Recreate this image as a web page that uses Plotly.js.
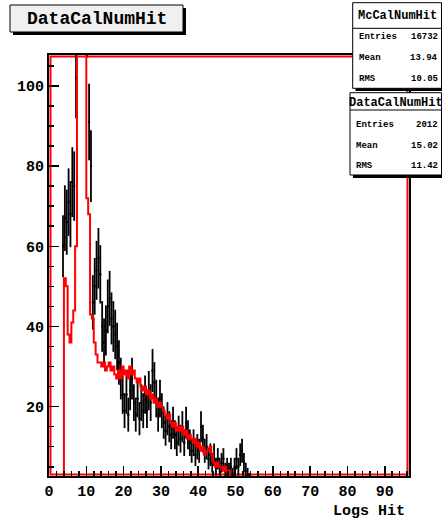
<!DOCTYPE html>
<html><head><meta charset="utf-8">
<script src="https://cdn.plot.ly/plotly-3.0.1.min.js"></script>
<style>html,body{margin:0;padding:0;background:#fff}#chart{width:442px;height:522px}</style>
</head><body><div id="chart"></div>
<script>
// ---------------- data ----------------
const binWidth = 0.5;
const dataFirstBin = 3.5;   // lower edge of first data bin
const dataCounts = [
  60, 67, 66, 71, 68, 76, 75, 102, 130, 150,
  160, 148, 130, 118, 91, 80, 46, 50, 54, 57,
  53, 40, 36, 39, 45, 47, 42, 40, 38, 35,
  31, 27, 23, 19, 23, 18, 24, 27, 21, 18,
  22, 17, 21, 19, 23, 19, 24, 21, 29, 26,
  22, 18, 22, 19, 16, 14, 17, 15, 13, 16,
  13, 11, 14, 12, 15, 11, 16, 13, 11, 9,
  11, 8, 10, 9, 15, 12, 9, 10, 7, 8,
  6, 8, 5, 7, 5, 6, 7, 4, 5, 4,
  5, 3, 5, 7, 5, 8, 9, 6, 4, 3,
  2, 1
];
const mcFirstBin = 3.5;     // lower edge of first MC bin
const mcCounts = [
  0, 52, 50, 38, 36, 41, 44, 60, 150, 220,
  250, 230, 170, 72, 68, 43, 42, 36, 33, 31,
  31, 30, 31, 29, 30, 31, 29, 30, 28, 27,
  29, 27, 30, 28, 29, 27, 30, 28, 29, 27,
  26, 27, 25, 24, 25, 23, 24, 22, 23, 21,
  22, 20, 21, 20, 19, 18, 17, 18, 16, 15,
  16, 14, 15, 14, 15, 13, 14, 12, 13, 12,
  11, 12, 10, 11, 9, 10, 8, 9, 9, 10,
  8, 6, 5, 6, 5, 5, 4, 5, 4, 4,
  0
];
const statNames = ['Entries', 'Mean', 'RMS'];
const mcStats = ['16732', '13.94', '10.05'];
const dataStats = ['2012', '15.02', '11.42'];
const histTitle = 'DataCalNumHit';
const mcName = 'McCalNumHit';
const dataName = 'DataCalNumHit';
const xTitle = 'Logs Hit';
const xTickVals = [0, 10, 20, 30, 40, 50, 60, 70, 80, 90];
const yTickVals = [20, 40, 60, 80, 100];

// ---------------- geometry helpers ----------------
const W = 442, H = 522;
const L = 49, R = 409, T = 55, B = 476;
const px = v => (v - L) / (R - L);
const py = v => (B - v) / (B - T);
const mono = 'Liberation Mono, Courier New, monospace';

const dataX = dataCounts.map((_, i) => dataFirstBin + (i + 0.5) * binWidth);
const dataErr = dataCounts.map(v => Math.sqrt(v));
const halfBin = dataCounts.map(() => binWidth / 2);
const mcX = mcCounts.map((_, i) => mcFirstBin + i * binWidth);

const traces = [
  {
    type: 'scatter', mode: 'markers', x: dataX, y: dataCounts,
    marker: {size: 2, color: 'black', symbol: 'square'},
    error_y: {type: 'data', array: dataErr, visible: true, color: 'black', thickness: 1.8, width: 0},
    error_x: {type: 'data', array: halfBin, visible: true, color: 'black', thickness: 1.5, width: 0},
    hoverinfo: 'x+y', name: dataName
  },
  {
    type: 'scatter', mode: 'lines', x: mcX, y: mcCounts,
    line: {shape: 'hv', color: '#ff0000', width: 2},
    name: mcName
  }
];

function rect(x0, y0, x1, y1, fill, lineColor, lw, layer) {
  return {type: 'rect', xref: 'paper', yref: 'paper',
    x0: px(x0), x1: px(x1), y0: py(y1), y1: py(y0),
    fillcolor: fill, line: {color: lineColor, width: lw}, layer: layer || 'above'};
}
function hline(x0, x1, y, color) {
  return {type: 'line', xref: 'paper', yref: 'paper', x0: px(x0), x1: px(x1), y0: py(y), y1: py(y),
    line: {color: color, width: 1}, layer: 'above'};
}
function txt(text, x, y, size, anchor) {
  return {text: text, xref: 'paper', yref: 'paper', x: px(x), y: py(y),
    xanchor: anchor, yanchor: 'middle', showarrow: false,
    font: {family: mono, size: size, color: 'black', weight: 'bold'}};
}

const shapes = [
  // red inner frame (MC outline)
  rect(50.5, 56.5, 407.5, 474.5, 'rgba(0,0,0,0)', '#ff0000', 2, 'below'),
  // title box with shadow
  rect(13, 8, 186, 35, 'black', 'black', 0),
  rect(10, 5, 183, 32, '#f0f0f0', 'black', 1),
  // MC stats box
  rect(355.5, 5.5, 444, 91, 'black', 'black', 0),
  rect(352.7, 2.7, 441.5, 88.3, 'white', 'black', 1),
  hline(352.7, 441.5, 28.3, 'black'),
  // Data stats box
  rect(353, 95.7, 444, 178, 'black', 'black', 0),
  rect(350, 92.7, 441.5, 175, 'white', 'black', 1),
  hline(350, 441.5, 110, 'black')
];

const annotations = [
  txt(histTitle, 96.5, 18.5, 18, 'center'),
  txt(mcName, 397, 15.5, 12, 'center'),
  txt(dataName, 395.5, 102.5, 12, 'center'),
  txt(xTitle, 407, 511, 15, 'right')
];
const mcRowsY = [37, 57.5, 79];
const dataRowsY = [125, 145.7, 165.7];
statNames.forEach((n, i) => {
  annotations.push(txt(n, 356.5, mcRowsY[i], 9, 'left'));
  annotations.push(txt(mcStats[i], 439.5, mcRowsY[i], 9, 'right'));
  annotations.push(txt(n, 354, dataRowsY[i], 9, 'left'));
  annotations.push(txt(dataStats[i], 439.5, dataRowsY[i], 9, 'right'));
});

const axisFont = {family: mono, size: 15, color: 'black', weight: 'bold'};
const layout = {
  width: W, height: H,
  margin: {l: L, r: W - R, t: T, b: H - B, pad: 0},
  paper_bgcolor: 'white', plot_bgcolor: 'white',
  showlegend: false,
  xaxis: {
    range: [0, 96.5], showgrid: false, zeroline: false,
    showline: true, mirror: true, linecolor: 'black', linewidth: 2,
    tickmode: 'array', tickvals: xTickVals, ticktext: xTickVals.map(String),
    ticks: 'inside', ticklen: 10, tickwidth: 1.5, tickcolor: 'black',
    tickfont: axisFont,
    minor: {dtick: 2, ticks: 'inside', ticklen: 5, tickwidth: 1.5, tickcolor: 'black', showgrid: false}
  },
  yaxis: {
    range: [2.7, 107.7], showgrid: false, zeroline: false,
    showline: true, mirror: true, linecolor: 'black', linewidth: 2,
    tickmode: 'array', tickvals: yTickVals, ticktext: yTickVals.map(String),
    ticks: 'inside', ticklen: 10, tickwidth: 1.5, tickcolor: 'black',
    tickfont: axisFont,
    minor: {dtick: 5, ticks: 'inside', ticklen: 5, tickwidth: 1.5, tickcolor: 'black', showgrid: false}
  },
  shapes: shapes,
  annotations: annotations
};

Plotly.newPlot('chart', traces, layout, {staticPlot: true, displayModeBar: false});
</script>
</body></html>
